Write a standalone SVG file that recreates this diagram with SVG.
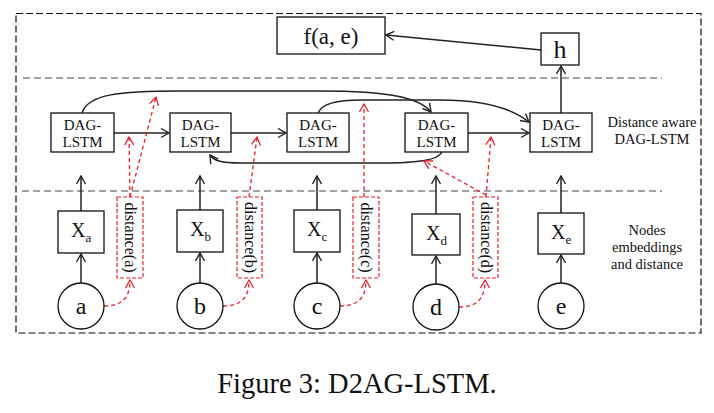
<svg xmlns="http://www.w3.org/2000/svg" width="714" height="413" viewBox="0 0 714 413">
<defs>
<marker id="ah" markerUnits="userSpaceOnUse" markerWidth="12" markerHeight="12" refX="9" refY="5" orient="auto">
<path d="M1,0.5 L9,5 L1,9.5" fill="none" stroke="#222" stroke-width="1.4"/>
</marker>
<marker id="ahr" markerUnits="userSpaceOnUse" markerWidth="12" markerHeight="12" refX="9" refY="5" orient="auto">
<path d="M1,0.5 L9,5 L1,9.5" fill="none" stroke="#e8222a" stroke-width="1.3"/>
</marker>
<style>
text{font-family:"Liberation Serif","Times New Roman",serif;fill:#111;}
.box{fill:#fff;stroke:#111;stroke-width:1.3;}
.rbox{fill:#fff;stroke:#e8222a;stroke-width:1.2;stroke-dasharray:4,2;}
.ln{fill:none;stroke:#222;stroke-width:1.5;marker-end:url(#ah);}
.rl{fill:none;stroke:#e8222a;stroke-width:1.3;stroke-dasharray:4,3;marker-end:url(#ahr);}
.sep{stroke:#444;stroke-width:1.2;stroke-dasharray:7,4;}
.dag{font-size:15px;text-anchor:middle;}
.lab{font-size:14.5px;text-anchor:middle;}
</style>
</defs>
<rect x="16" y="13.5" width="685" height="319.5" fill="none" stroke="#111" stroke-width="1.2" stroke-dasharray="7,3"/>
<line class="sep" x1="23" y1="78" x2="662" y2="78"/>
<line class="sep" x1="22" y1="191" x2="662" y2="191"/>

<g id="connectors">
<line class="ln" x1="541" y1="50" x2="386" y2="35"/>
<line class="ln" x1="561" y1="113" x2="561" y2="66"/>
<line class="ln" x1="114" y1="133" x2="169" y2="133"/>
<line class="ln" x1="231" y1="133" x2="286" y2="133"/>
<line class="ln" x1="468" y1="133" x2="529" y2="133"/>
<path class="ln" d="M82,113 C88,94 120,91 180,91 L320,91 C390,91 420,98 431,112"/>
<path class="ln" d="M318,113 C322,104 335,100 362,100 L440,100 C490,100 514,110 529,122"/>
<path class="ln" d="M442,152 C438,160 420,163 380,163 L240,163 C222,163 214,161 210,155"/>
<line class="ln" x1="81" y1="211" x2="81" y2="176"/>
<line class="ln" x1="200" y1="210" x2="200" y2="176"/>
<line class="ln" x1="317" y1="210" x2="317" y2="176"/>
<line class="ln" x1="436" y1="214" x2="436" y2="176"/>
<line class="ln" x1="561" y1="213" x2="561" y2="176"/>
<line class="ln" x1="81" y1="283" x2="81" y2="254"/>
<line class="ln" x1="200" y1="283" x2="200" y2="253"/>
<line class="ln" x1="317" y1="283" x2="317" y2="253"/>
<line class="ln" x1="436" y1="284" x2="436" y2="256"/>
<line class="ln" x1="561" y1="283" x2="561" y2="255"/>
<path class="rl" d="M104,306 C120,306 130,300 130,280"/>
<path class="rl" d="M223,306 C239,306 249,300 249,280"/>
<path class="rl" d="M340,306 C356,306 366,300 366,280"/>
<path class="rl" d="M459,307 C475,307 485,301 485,280"/>
<line class="rl" x1="130" y1="197" x2="129" y2="137"/>
<line class="rl" x1="130" y1="197" x2="156" y2="97"/>
<line class="rl" x1="249" y1="197" x2="257" y2="137"/>
<line class="rl" x1="364" y1="197" x2="364" y2="104"/>
<line class="rl" x1="486" y1="197" x2="491" y2="137"/>
<line class="rl" x1="486" y1="195" x2="424" y2="161"/>
</g>

<g id="fae"><rect class="box" x="277" y="17" width="108" height="37"/><text x="331" y="44" font-size="23" text-anchor="middle">f(a, e)</text></g>
<g id="h"><rect class="box" x="541" y="33" width="38" height="32"/><text x="560" y="58" font-size="26" text-anchor="middle">h</text></g>

<g id="dag1"><rect class="box" x="51" y="113" width="63" height="39"/><text class="dag" x="82.5" y="130">DAG-</text><text class="dag" x="82.5" y="147">LSTM</text></g>
<g id="dag2"><rect class="box" x="170" y="113" width="61" height="39"/><text class="dag" x="200.5" y="130">DAG-</text><text class="dag" x="200.5" y="147">LSTM</text></g>
<g id="dag3"><rect class="box" x="287" y="113" width="62" height="39"/><text class="dag" x="318" y="130">DAG-</text><text class="dag" x="318" y="147">LSTM</text></g>
<g id="dag4"><rect class="box" x="405" y="113" width="63" height="39"/><text class="dag" x="436.5" y="130">DAG-</text><text class="dag" x="436.5" y="147">LSTM</text></g>
<g id="dag5"><rect class="box" x="530" y="113" width="62" height="39"/><text class="dag" x="561" y="130">DAG-</text><text class="dag" x="561" y="147">LSTM</text></g>

<g id="xa"><rect class="box" x="58" y="211" width="46" height="42"/><text x="71" y="237" font-size="20">X<tspan font-size="13" dy="5">a</tspan></text></g>
<g id="xb"><rect class="box" x="177" y="210" width="46" height="42"/><text x="190" y="236" font-size="20">X<tspan font-size="13" dy="5">b</tspan></text></g>
<g id="xc"><rect class="box" x="294" y="210" width="46" height="42"/><text x="307" y="236" font-size="20">X<tspan font-size="13" dy="5">c</tspan></text></g>
<g id="xd"><rect class="box" x="412" y="214" width="48" height="41"/><text x="426" y="240" font-size="20">X<tspan font-size="13" dy="5">d</tspan></text></g>
<g id="xe"><rect class="box" x="538" y="213" width="46" height="41"/><text x="551" y="239" font-size="20">X<tspan font-size="13" dy="5">e</tspan></text></g>

<g id="da"><rect class="rbox" x="117" y="197" width="26" height="81"/><text x="130" y="237.5" font-size="16" text-anchor="middle" transform="rotate(90 130 237.5)" dy="5">distance(a)</text></g>
<g id="db"><rect class="rbox" x="237" y="197" width="25" height="81"/><text x="249.5" y="237.5" font-size="16" text-anchor="middle" transform="rotate(90 249.5 237.5)" dy="5">distance(b)</text></g>
<g id="dc"><rect class="rbox" x="353" y="197" width="26" height="81"/><text x="366" y="237.5" font-size="16" text-anchor="middle" transform="rotate(90 366 237.5)" dy="5">distance(c)</text></g>
<g id="dd"><rect class="rbox" x="473" y="197" width="25" height="81"/><text x="485.5" y="237.5" font-size="16" text-anchor="middle" transform="rotate(90 485.5 237.5)" dy="5">distance(d)</text></g>

<g id="na"><circle cx="81" cy="306" r="23" class="box"/><text x="81" y="314" font-size="24" text-anchor="middle">a</text></g>
<g id="nb"><circle cx="200" cy="306" r="23" class="box"/><text x="200" y="314" font-size="24" text-anchor="middle">b</text></g>
<g id="nc"><circle cx="317" cy="306" r="23" class="box"/><text x="317" y="314" font-size="24" text-anchor="middle">c</text></g>
<g id="nd"><circle cx="436" cy="307" r="23" class="box"/><text x="436" y="315" font-size="24" text-anchor="middle">d</text></g>
<g id="ne"><circle cx="561" cy="306" r="23" class="box"/><text x="561" y="314" font-size="24" text-anchor="middle">e</text></g>

<g id="labels">
<text class="lab" x="652" y="127">Distance aware</text>
<text class="lab" x="652" y="144">DAG-LSTM</text>
<text class="lab" x="647" y="235">Nodes</text>
<text class="lab" x="647" y="252">embeddings</text>
<text class="lab" x="647" y="269">and distance</text>
</g>
<text x="357" y="393" font-size="28.5" text-anchor="middle">Figure 3: D2AG-LSTM.</text>
</svg>
